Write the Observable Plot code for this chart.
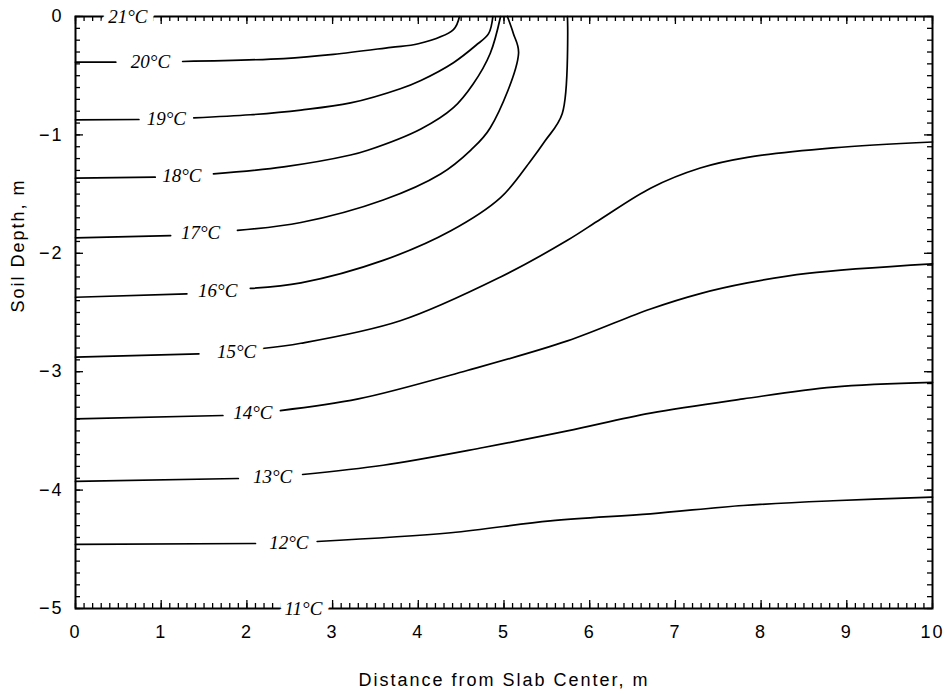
<!DOCTYPE html>
<html>
<head>
<meta charset="utf-8">
<script src="https://cdn.jsdelivr.net/npm/d3@7"></script>
<script src="https://cdn.jsdelivr.net/npm/@observablehq/plot@0.6"></script>
<style>
  html, body { margin: 0; padding: 0; background: #fff; }
</style>
</head>
<body>
<div id="chart"></div>
<script>
// ---- Data ----
const levels = [21, 20, 19, 18, 17, 16, 15, 14, 13, 12, 11];
const labelX = [0.61, 0.875, 1.06, 1.24, 1.46, 1.66, 1.88, 2.07, 2.30, 2.49, 2.66];
const labelY = [0, -0.383, -0.863, -1.343, -1.83, -2.32, -2.83, -3.35, -3.885, -4.443, -5];

// isotherms: first two points = segment left of the label, the rest = right of the label
const x20 = [0, 0.47, 1.25, 2.43, 3.01, 3.68, 4.00, 4.41, 4.48];
const y20 = [-0.386, -0.386, -0.380, -0.355, -0.32, -0.26, -0.23, -0.11, 0];
const x19 = [0, 0.74, 1.38, 2.04, 2.63, 3.21, 3.79, 4.03, 4.41, 4.67, 4.82, 4.87];
const y19 = [-0.873, -0.870, -0.856, -0.83, -0.79, -0.73, -0.61, -0.54, -0.39, -0.245, -0.145, 0];
const x18 = [0, 0.93, 1.61, 2.43, 3.21, 3.41, 4.03, 4.41, 4.64, 4.84, 4.96];
const y18 = [-1.365, -1.357, -1.329, -1.27, -1.17, -1.13, -0.95, -0.77, -0.57, -0.31, 0];
const x17 = [0, 1.11, 1.89, 2.63, 3.59, 4.26, 4.61, 4.84, 5.17, 5.11, 5.04];
const y17 = [-1.869, -1.850, -1.807, -1.74, -1.55, -1.33, -1.13, -0.94, -0.31, -0.145, 0];
const x16 = [0, 1.30, 2.04, 2.63, 3.59, 4.38, 4.96, 5.31, 5.48, 5.68, 5.74];
const y16 = [-2.371, -2.342, -2.297, -2.25, -2.06, -1.81, -1.53, -1.22, -1.05, -0.82, 0];
const x15 = [0, 1.44, 2.18, 2.63, 3.79, 4.96, 5.74, 6.13, 6.71, 7.29, 7.84, 8.84, 10];
const y15 = [-2.877, -2.849, -2.804, -2.76, -2.57, -2.20, -1.89, -1.71, -1.45, -1.28, -1.19, -1.11, -1.06];
const x14 = [0, 1.72, 2.39, 3.30, 4.57, 5.74, 6.71, 7.29, 7.84, 8.54, 10];
const y14 = [-3.398, -3.370, -3.328, -3.23, -2.99, -2.74, -2.47, -2.34, -2.25, -2.17, -2.09];
const x13 = [0, 1.90, 2.65, 3.59, 4.76, 5.74, 6.71, 7.79, 8.84, 10];
const y13 = [-3.927, -3.902, -3.868, -3.79, -3.64, -3.50, -3.35, -3.23, -3.13, -3.09];
const x12 = [0, 2.10, 2.82, 4.38, 5.54, 6.71, 7.79, 8.84, 10];
const y12 = [-4.459, -4.451, -4.434, -4.36, -4.26, -4.20, -4.13, -4.09, -4.06];

const xTicks = [0, 1, 2, 3, 4, 5, 6, 7, 8, 9, 10];
const yTicks = [0, -1, -2, -3, -4, -5];
const xTitle = "Distance from Slab Center, m";
const yTitle = "Soil Depth, m";

// ---- Layout ----
const W = 949, H = 694, mT = 16, mB = 86, mL = 75, mR = 17;
const pH = H - mT - mB, pW = W - mL - mR;
const minorLen = 5, majorLen = 8;
const xMinor = d3.range(0, 101).map(i => i / 10);
const yMinor = d3.range(-50, 1).map(i => i / 10);

function rowsOf(level, xs, ys) {
  return xs.map((x, i) => ({seg: level + (i < 2 ? "a" : "b"), x, y: ys[i]}));
}
const rows = [
  ...rowsOf(20, x20, y20), ...rowsOf(19, x19, y19), ...rowsOf(18, x18, y18),
  ...rowsOf(17, x17, y17), ...rowsOf(16, x16, y16), ...rowsOf(15, x15, y15),
  ...rowsOf(14, x14, y14), ...rowsOf(13, x13, y13), ...rowsOf(12, x12, y12)
];
const labels = levels.map((t, i) => ({text: `${t}°C`, x: labelX[i], y: labelY[i]}));

const tickStyle = {stroke: "black", strokeWidth: 1.3};
const sans = "Liberation Sans";

const chart = Plot.plot({
  width: W, height: H,
  marginTop: mT, marginBottom: mB, marginLeft: mL, marginRight: mR,
  x: {domain: [0, 10]},
  y: {domain: [-5, 0]},
  style: {background: "white", color: "black"},
  marks: [
    Plot.line(rows, {x: "x", y: "y", z: "seg", stroke: "black", strokeWidth: 1.7, curve: "catmull-rom"}),
    Plot.frame({stroke: "black", strokeWidth: 2}),
    // inward minor ticks on all four sides
    Plot.ruleX(xMinor, {...tickStyle, insetTop: pH - minorLen}),
    Plot.ruleX(xMinor, {...tickStyle, insetBottom: pH - minorLen}),
    Plot.ruleY(yMinor, {...tickStyle, insetRight: pW - minorLen}),
    Plot.ruleY(yMinor, {...tickStyle, insetLeft: pW - minorLen}),
    // inward major ticks
    Plot.ruleX(xTicks, {...tickStyle, insetTop: pH - majorLen}),
    Plot.ruleX(xTicks, {...tickStyle, insetBottom: pH - majorLen}),
    Plot.ruleY(yTicks, {...tickStyle, insetRight: pW - majorLen}),
    Plot.ruleY(yTicks, {...tickStyle, insetLeft: pW - majorLen}),
    Plot.axisX({ticks: xTicks, tickFormat: "d", tickSize: 0, tickPadding: 17, fontSize: 18, fontFamily: sans, label: null}),
    Plot.axisY({ticks: yTicks, tickFormat: "d", tickSize: 0, tickPadding: 12, fontSize: 18, fontFamily: sans, label: null}),
    Plot.text(labels, {x: "x", y: "y", text: "text", fontFamily: "Liberation Serif", fontStyle: "italic",
      fontSize: 19, fill: "black", stroke: "white", strokeWidth: 14, strokeLinejoin: "round"}),
    Plot.text([xTitle], {text: d => d, frameAnchor: "bottom", dy: 77, fontSize: 18,
      fontFamily: sans, fill: "black"}),
    Plot.text([yTitle], {text: d => d, frameAnchor: "left", dx: -57, rotate: -90, fontSize: 18,
      fontFamily: sans, fill: "black"})
  ]
});
// widen the plotter-style sans text
d3.select(chart).selectAll("text")
  .filter(function () {
    const ff = this.getAttribute("font-family") || (this.parentNode && this.parentNode.getAttribute("font-family"));
    return ff === sans;
  })
  .attr("letter-spacing", "2px")
  .style("letter-spacing", "2px");
document.getElementById("chart").appendChild(chart);
</script>
</body>
</html>
